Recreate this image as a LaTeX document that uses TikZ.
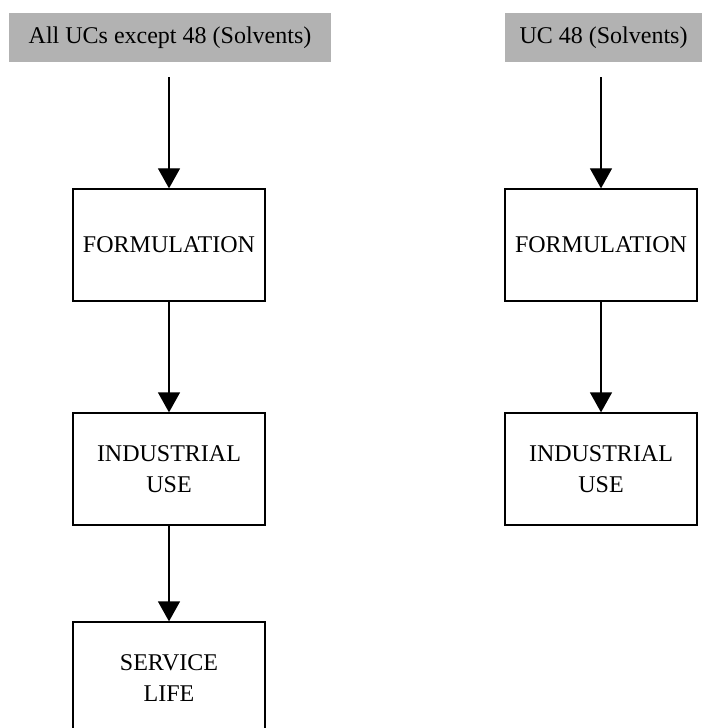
\documentclass[tikz,border=0pt]{standalone}
\usepackage{fontspec}
\setmainfont{Liberation Serif}
\usetikzlibrary{arrows.meta}
\begin{document}
\begin{tikzpicture}[x=1bp,y=-1bp,
  header/.style={fill=black!30, draw=none, inner sep=0pt,
    minimum height=49bp, font=\fontsize{24bp}{31bp}\selectfont},
  stage/.style={draw=black, line width=1.3bp, inner sep=0pt,
    minimum width=192bp, minimum height=112bp, align=center,
    font=\fontsize{24bp}{31bp}\selectfont},
  flow/.style={line width=1.3bp, -{Triangle[width=22bp,length=20bp]}}]
  \useasboundingbox (0,0) rectangle (706,728);

  % left column: all use categories except 48
  \node[header, minimum width=322bp] (hA) at (170,37.5) {All UCs except 48 (Solvents)};
  \node[stage] (fA) at (169,245) {FORMULATION};
  \node[stage] (iA) at (169,469) {INDUSTRIAL\\USE};
  \node[stage] (sA) at (169,678) {SERVICE\\LIFE};

  % right column: use category 48
  \node[header, minimum width=197bp] (hB) at (603.5,37.5) {UC 48 (Solvents)};
  \node[stage] (fB) at (601,245) {FORMULATION};
  \node[stage] (iB) at (601,469) {INDUSTRIAL\\USE};

  \draw[flow, shorten <=15bp] (hA.south -| fA.north) -- (fA.north);
  \draw[flow] (fA) -- (iA);
  \draw[flow] (iA) -- (sA);

  \draw[flow, shorten <=15bp] (hB.south -| fB.north) -- (fB.north);
  \draw[flow] (fB) -- (iB);
\end{tikzpicture}
\end{document}
